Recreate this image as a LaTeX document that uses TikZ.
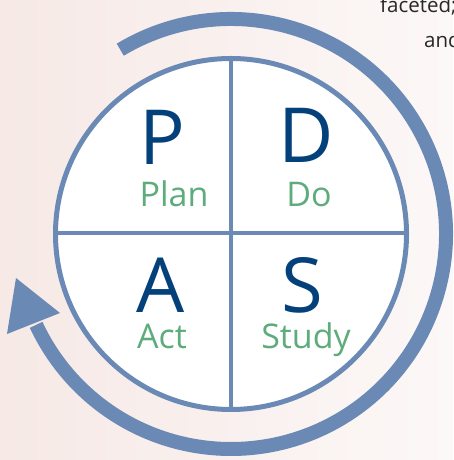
\documentclass[tikz,border=0pt]{standalone}
\usepackage{fontspec}
\setmainfont{Open Sans}
\definecolor{ringblue}{RGB}{106,138,181}
\definecolor{letterblue}{RGB}{4,64,122}
\definecolor{wordgreen}{RGB}{94,172,124}
\definecolor{bgleft}{RGB}{246,233,230}
\definecolor{bgright}{RGB}{252,248,247}
\definecolor{textgray}{RGB}{40,40,40}
\begin{document}
\begin{tikzpicture}[x=1pt,y=1pt,
  bigletter/.style={font=\fontsize{76}{76}\selectfont, text=letterblue, anchor=base, inner sep=0pt},
  word/.style={font=\fontsize{34}{34}\selectfont, text=wordgreen, anchor=base, inner sep=0pt},
  bodytext/.style={font=\fontsize{20.5}{20.5}\selectfont, text=textgray, anchor=base west, inner sep=0pt},
  ring/.style={draw=ringblue, line width=5pt, fill=white},
  divider/.style={draw=ringblue, line width=4.5pt},
  cycle/.style={draw=ringblue, line width=14pt}]
\useasboundingbox (0,0) rectangle (453,460);
\shade[left color=bgleft, right color=bgright] (0,0) rectangle (453,460);
\coordinate (C) at (231,226);
% cycle arrow
\draw[cycle] (C) ++(121:215) arc[start angle=121, end angle=-155, radius=215];
\fill[ringblue] (16,182) -- (7,126) -- (60,147) -- cycle;
% circle
\draw[ring] (C) circle[radius=175.5];
\coordinate (T) at (231,402);
\coordinate (B) at (231,50);
\coordinate (L) at (55.5,227);
\coordinate (R) at (406.5,227);
\draw[divider] (T) -- (B);
\draw[divider] (L) -- (R);
% letters
\node[bigletter] (p) at (162,295) {P};
\node[bigletter] (d) at (306,297) {D};
\node[bigletter] (a) at (161,147) {A};
\node[bigletter] (s) at (302,147) {S};
\node[word] (plan) at (174,253) {Plan};
\node[word] (do) at (309,253) {Do};
\node[word] (act) at (162,111) {Act};
\node[word] (study) at (306,111) {Study};
% cut-off text
\node[bodytext] (t1) at (380,447) {faceted;};
\node[bodytext] (t2) at (424,412) {and};
\end{tikzpicture}
\end{document}
